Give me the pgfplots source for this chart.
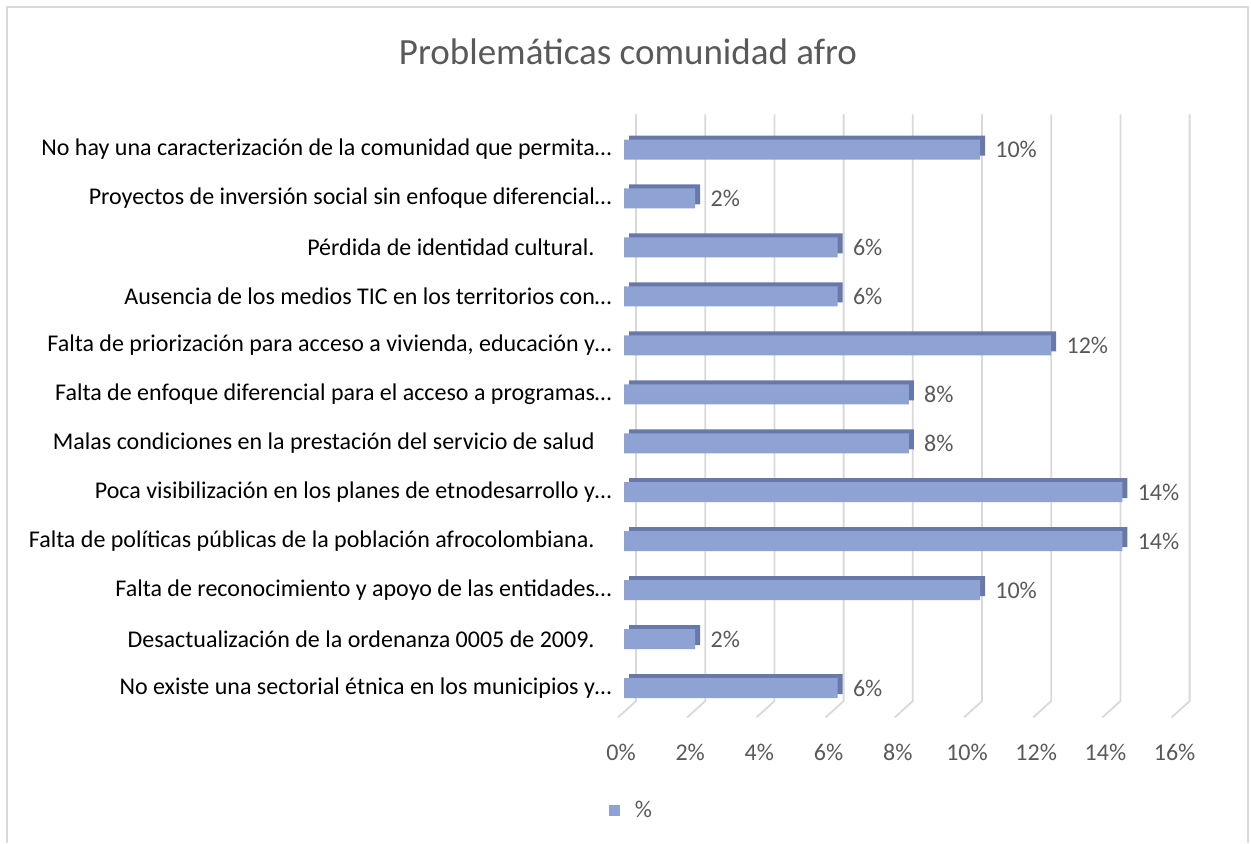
\documentclass[border=0pt]{standalone}
\usepackage{pgfplots}
\usepackage{pgfplotstable}
\pgfplotsset{compat=1.18}
\usepackage{fontspec}
\setmainfont{Carlito}
\definecolor{barfront}{HTML}{8FA2D4}
\definecolor{barside}{HTML}{6878A8}
\definecolor{gridc}{HTML}{D9D9D9}
\definecolor{txtgrey}{HTML}{595959}
\definecolor{bordc}{HTML}{D9D9D9}
\pgfplotstableread{
r v
11 10
10 2
9 6
8 6
7 12
6 8
5 8
4 14
3 14
2 10
1 2
0 6
}\datatable
\begin{document}
\begin{tikzpicture}[x=0.5pt,y=0.5pt]
\useasboundingbox (0,0) rectangle (1251,843);
\draw[bordc, line width=1pt] (7,0) -- (7,836) -- (1248,836) -- (1248,0);
\node[txtgrey, font=\fontsize{18.5}{22}\selectfont] at (628,791) {Problemáticas comunidad afro};
\begin{axis}[
  at={(294.2pt,62.8pt)}, anchor=south west,
  scale only axis, width=320.4pt, height=302.3pt,
  xmin=-1, xmax=17, ymin=-0.6, ymax=11.75,
  axis line style={draw=none}, tick style={draw=none}, major tick length=0pt,
  /pgf/number format/assume math mode=true,
  xtick={-0.0843,1.8596,3.8034,5.7472,7.6910,9.6348,11.5787,13.5225,15.4663},
  xticklabels={0\%,2\%,4\%,6\%,8\%,10\%,12\%,14\%,16\%},
  xticklabel style={anchor=center, yshift=-17.3pt, text=txtgrey, font=\fontsize{12}{14}\selectfont},
  ytick={0,...,11},
  yticklabels={
    No existe una sectorial étnica en los municipios y…,
    Desactualización de la ordenanza 0005 de 2009.\kern8.5pt,
    Falta de reconocimiento y apoyo de las entidades…,
    Falta de políticas públicas de la población afrocolombiana.\kern8.5pt,
    Poca visibilización en los planes de etnodesarrollo y…,
    Malas condiciones en la prestación del servicio de salud\kern8.5pt,
    Falta de enfoque diferencial para el acceso a programas…,
    {Falta de priorización para acceso a vivienda, educación y…},
    Ausencia de los medios TIC en los territorios con…,
    Pérdida de identidad cultural.\kern8.5pt,
    Proyectos de inversión social sin enfoque diferencial…,
    No hay una caracterización de la comunidad que permita…},
  yticklabel style={anchor=east, inner sep=0pt, xshift=11.8pt, text=black, font=\fontsize{12}{14.5}\selectfont},
  legend style={at={(0.0686,-0.154)}, anchor=center, draw=none, fill=none, text=txtgrey, font=\fontsize{12}{14}\selectfont},
  legend image code/.code={\fill[barfront] (0pt,-2.75pt) rectangle (5.5pt,2.75pt); \path (11pt,0pt);},
  clip=false,
]
\pgfplotsinvokeforeach{0,2,4,6,8,10,12,14,16}{
  \draw[gridc, line width=0.9pt] (axis cs:{(12+34.6*#1)/35.6},11.72) -- (axis cs:{(12+34.6*#1)/35.6},-0.266) -- (axis cs:{(-6+34.6*#1)/35.6},-0.6);
}
\addplot[xbar, bar width=10pt, fill=barside, draw=none, xshift=2.5pt, yshift=2pt, forget plot] table[x=v,y=r]{\datatable};
\addplot[xbar, bar width=10pt, fill=barfront, draw=none,
  nodes near coords={\pgfmathprintnumber{\pgfplotspointmeta}\%},
  nodes near coords style={anchor=west, inner sep=0pt, xshift=7.5pt, text=txtgrey, font=\fontsize{12}{14}\selectfont}]
  table[x=v,y=r]{\datatable};
\addlegendentry{\%}
\end{axis}
\end{tikzpicture}
\end{document}
